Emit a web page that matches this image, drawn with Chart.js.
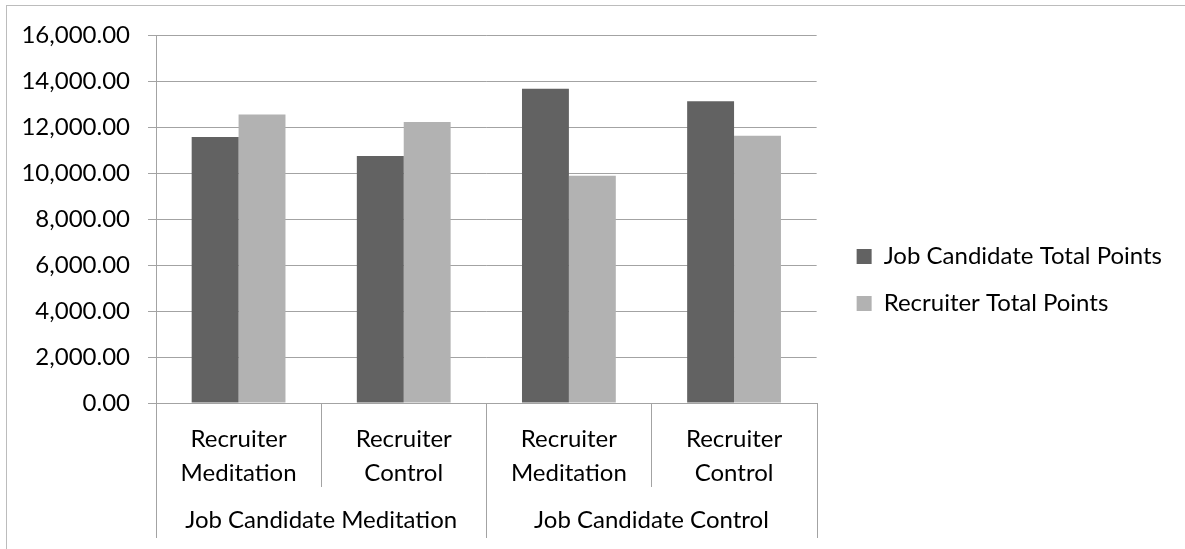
<!DOCTYPE html>
<html>
<head>
<meta charset="utf-8">
<script src="https://cdn.jsdelivr.net/npm/chart.js@4.4.1/dist/chart.umd.min.js"></script>
<style>
  html, body { margin: 0; padding: 0; background: #fff; }
  #wrap { position: relative; width: 1185px; height: 549px; overflow: hidden; }
  #frame {
    position: absolute; left: 6px; top: 5px; width: 1200px; height: 560px;
    border-left: 1px solid #bcbcbc; border-top: 1px solid #bcbcbc;
    pointer-events: none;
  }
  canvas { display: block; }
</style>
</head>
<body>
<div id="wrap">
  <canvas id="chart" width="1185" height="549"></canvas>
  <div id="frame"></div>
</div>
<script>
/* ---- Data ---- */
const subLabels = [
  ["Recruiter", "Meditation"],
  ["Recruiter", "Control"],
  ["Recruiter", "Meditation"],
  ["Recruiter", "Control"]
];
const groupLabels = ["Job Candidate Meditation", "Job Candidate Control"];
const groupSpans = [2, 2];
const seriesNames = ["Job Candidate Total Points", "Recruiter Total Points"];
const jobCandidatePoints = [11565, 10735, 13665, 13115];
const recruiterPoints = [12540, 12220, 9885, 11620];
const yMin = 0;
const yMax = 16000;
const yStep = 2000;

/* ---- Styles ---- */
const FONT = "Lato";
const AXIS_GRAY = "#a3a3a3";
const DARK = "#626262";
const LIGHT = "#b2b2b2";

// divider lines + group labels under the category axis
const groupAxis = {
  id: "groupAxis",
  afterDraw(chart){
    const xs = chart.scales.x;
    const ctx = chart.ctx;
    const top = xs.top;
    const bounds = [0];
    let acc = 0;
    groupSpans.forEach(n => { acc += n; bounds.push(acc); });

    ctx.save();
    ctx.strokeStyle = AXIS_GRAY;
    ctx.lineWidth = 1;
    for(let i = 0; i <= subLabels.length; i++){
      const px = Math.round(xs.getPixelForValue(i - 0.5)) + 0.5;
      const len = bounds.includes(i) ? 135 : 84;
      ctx.beginPath();
      ctx.moveTo(px, top);
      ctx.lineTo(px, top + len);
      ctx.stroke();
    }

    ctx.fillStyle = "#000";
    ctx.font = `24px ${FONT}`;
    ctx.textAlign = "center";
    ctx.textBaseline = "middle";
    let start = 0;
    groupLabels.forEach((g, k) => {
      const a = xs.getPixelForValue(start - 0.5);
      const b = xs.getPixelForValue(start + groupSpans[k] - 0.5);
      ctx.fillText(g, (a + b) / 2, top + 117);
      start += groupSpans[k];
    });
    ctx.restore();
  }
};

// nudge the legend to where the reference has it
const legendNudge = {
  id: "legendNudge",
  afterLayout(chart){
    const lg = chart.legend;
    if(!lg) return;
    const dx = 17, dy = -12;
    lg.left += dx; lg.right += dx;
    lg.top += dy; lg.bottom += dy;
  }
};

const ctx = document.getElementById("chart");
new Chart(ctx, {
  type: "bar",
  data: {
    labels: subLabels,
    datasets: [
      { label: seriesNames[0], data: jobCandidatePoints, backgroundColor: DARK },
      { label: seriesNames[1], data: recruiterPoints, backgroundColor: LIGHT }
    ]
  },
  options: {
    responsive: false,
    animation: false,
    layout: { padding: { top: 35, right: 30, left: 0, bottom: 0 } },
    datasets: { bar: { categoryPercentage: 0.568, barPercentage: 1.0 } },
    plugins: {
      tooltip: { enabled: false },
      legend: {
        position: "right",
        maxWidth: 340,
        labels: {
          boxWidth: 15,
          boxHeight: 15,
          padding: 23,
          color: "#000",
          font: { family: FONT, size: 24 }
        }
      }
    },
    scales: {
      x: {
        grid: { display: false },
        border: { display: true, color: AXIS_GRAY, width: 1 },
        ticks: {
          color: "#000",
          padding: 11,
          maxRotation: 0,
          autoSkip: false,
          font: { family: FONT, size: 24, lineHeight: 1.42 }
        },
        afterFit(scale){ scale.height = 146; }
      },
      y: {
        min: yMin,
        max: yMax,
        grid: { color: AXIS_GRAY, tickLength: 8, drawTicks: true },
        border: { display: true, color: AXIS_GRAY, width: 1 },
        ticks: {
          stepSize: yStep,
          color: "#000",
          padding: 18,
          font: { family: FONT, size: 24 },
          callback: v => Number(v).toLocaleString("en-US", { minimumFractionDigits: 2, maximumFractionDigits: 2 })
        },
        afterFit(scale){ scale.width = 156; }
      }
    }
  },
  plugins: [groupAxis, legendNudge]
});
</script>
</body>
</html>
